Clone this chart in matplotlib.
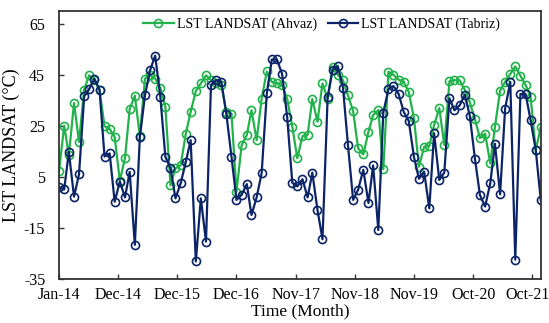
import numpy as np
import pandas as pd
import matplotlib
matplotlib.use("Agg")
import matplotlib.pyplot as plt
import matplotlib.transforms as mtransforms

# monthly LST values, Jan 2014 .. Dec 2021
months = pd.date_range("2014-01-01", periods=96, freq="MS")

ahvaz = [
    7.2, 25.1, 13.5, 33.9, 18.7, 39.2, 44.8, 42.9, 39.1, 24.9, 23.8, 20.7,
    3.5, 12.4, 31.6, 36.8, 21.0, 43.5, 44.8, 43.5, 40.0, 32.5, 1.7, 8.4,
    9.6, 22.0, 30.5, 38.6, 41.6, 44.8, 42.9, 41.6, 41.0, 30.5, 29.8, -0.8,
    17.5, 21.4, 31.1, 19.4, 35.7, 46.3, 42.2, 41.7, 40.9, 35.7, 24.6, 12.3,
    21.0, 21.5, 35.5, 26.6, 41.6, 35.7, 48.0, 45.0, 42.9, 37.0, 30.8, 16.2,
    13.8, 22.7, 29.2, 31.2, 8.0, 46.2, 45.0, 43.1, 42.2, 38.3, 27.9, 9.0,
    16.8, 17.1, 25.3, 32.0, 17.5, 42.5, 42.9, 42.9, 39.2, 34.3, 27.6, 20.2,
    22.0, 10.3, 24.6, 38.8, 42.2, 45.3, 48.3, 44.6, 41.0, 36.4, 15.5, 24.6,
]

tabriz = [
    1.1, 0.1, 14.8, -2.7, 6.0, 36.6, 39.4, 43.5, 39.2, 13.0, 14.2, -4.7,
    3.2, -3.0, 7.0, -21.6, 20.5, 37.1, 46.7, 52.5, 36.4, 12.9, 8.4, -3.4,
    2.5, 10.9, 19.4, -28.1, -3.4, -20.3, 40.9, 42.9, 42.2, 29.8, 12.9, -4.0,
    -2.0, 2.2, -9.9, -3.0, 6.5, 37.7, 51.0, 51.0, 45.3, 28.5, 2.7, 1.3,
    4.1, -3.0, 6.7, -7.9, -19.4, 36.2, 47.0, 48.4, 40.0, 17.5, -4.0, 0.0,
    7.8, -5.2, 9.5, -15.8, 30.2, 39.4, 40.6, 37.5, 30.4, 26.9, 12.8, 4.3,
    7.1, -7.3, 22.1, 3.8, 6.7, 35.8, 31.1, 33.0, 37.2, 29.0, 12.1, -2.1,
    -6.6, 2.5, 18.0, -1.8, 31.8, 42.2, -27.4, 37.5, 37.5, 27.2, 15.5, -4.0,
]

tick_labels = ["Jan-14", "Dec-14", "Dec-15", "Dec-16", "Nov-17",
               "Nov-18", "Nov-19", "Oct-20", "Oct-21"]
y_ticks = [-35, -15, 5, 25, 45, 65]

green = "#22b24c"
navy = "#0b2468"

plt.rcParams["font.family"] = ["Liberation Serif", "DejaVu Serif"]

fig = plt.figure(figsize=(5.49, 3.23), dpi=100)
ax = fig.add_axes([0.1075, 0.136, 0.8775, 0.83])

ax.plot(months, ahvaz, color=green, lw=1.6, marker="o", ms=5.8,
        mfc="none", mec=green, mew=1.2, label="LST LANDSAT (Ahvaz)")
ax.plot(months, tabriz, color=navy, lw=1.6, marker="o", ms=5.8,
        mfc="none", mec=navy, mew=1.2, label="LST LANDSAT (Tabriz)")

# excel-style date axis: a tick every 355 days from Jan 2014
tick_pos = [months[0] + pd.Timedelta(days=355 * k) for k in range(len(tick_labels))]
ax.set_xticks(tick_pos)
ax.set_xticklabels(tick_labels, fontsize=11.5)
ax.set_xlim(months[0], months[-1])

ax.set_ylim(-35, 70)
ax.set_yticks(y_ticks)
ax.set_yticklabels([str(v) for v in y_ticks], fontsize=11.5)

ax.tick_params(direction="in", length=3.5, width=1, colors="#333333",
               labelcolor="black")
ax.tick_params(axis="x", pad=6)
ax.tick_params(axis="y", pad=10)
for s in ax.spines.values():
    s.set_color("#333333")
    s.set_linewidth(1.3)

# last label sits a bit left so it stays inside the figure
last = ax.get_xticklabels()[-1]
last.set_transform(last.get_transform() + mtransforms.ScaledTranslation(-5 / 100, 0, fig.dpi_scale_trans))

ax.set_xlabel("Time (Month)", fontsize=12.5, labelpad=0)
ax.set_ylabel("LST LANDSAT (°C)", fontsize=13, labelpad=3)

ax.legend(loc="upper center", ncol=2, frameon=False, fontsize=10,
          handlelength=2.2, handletextpad=0.2, columnspacing=0.8,
          borderaxespad=0.1, bbox_to_anchor=(0.545, 1.0))

fig.savefig("out.png", dpi=100)
